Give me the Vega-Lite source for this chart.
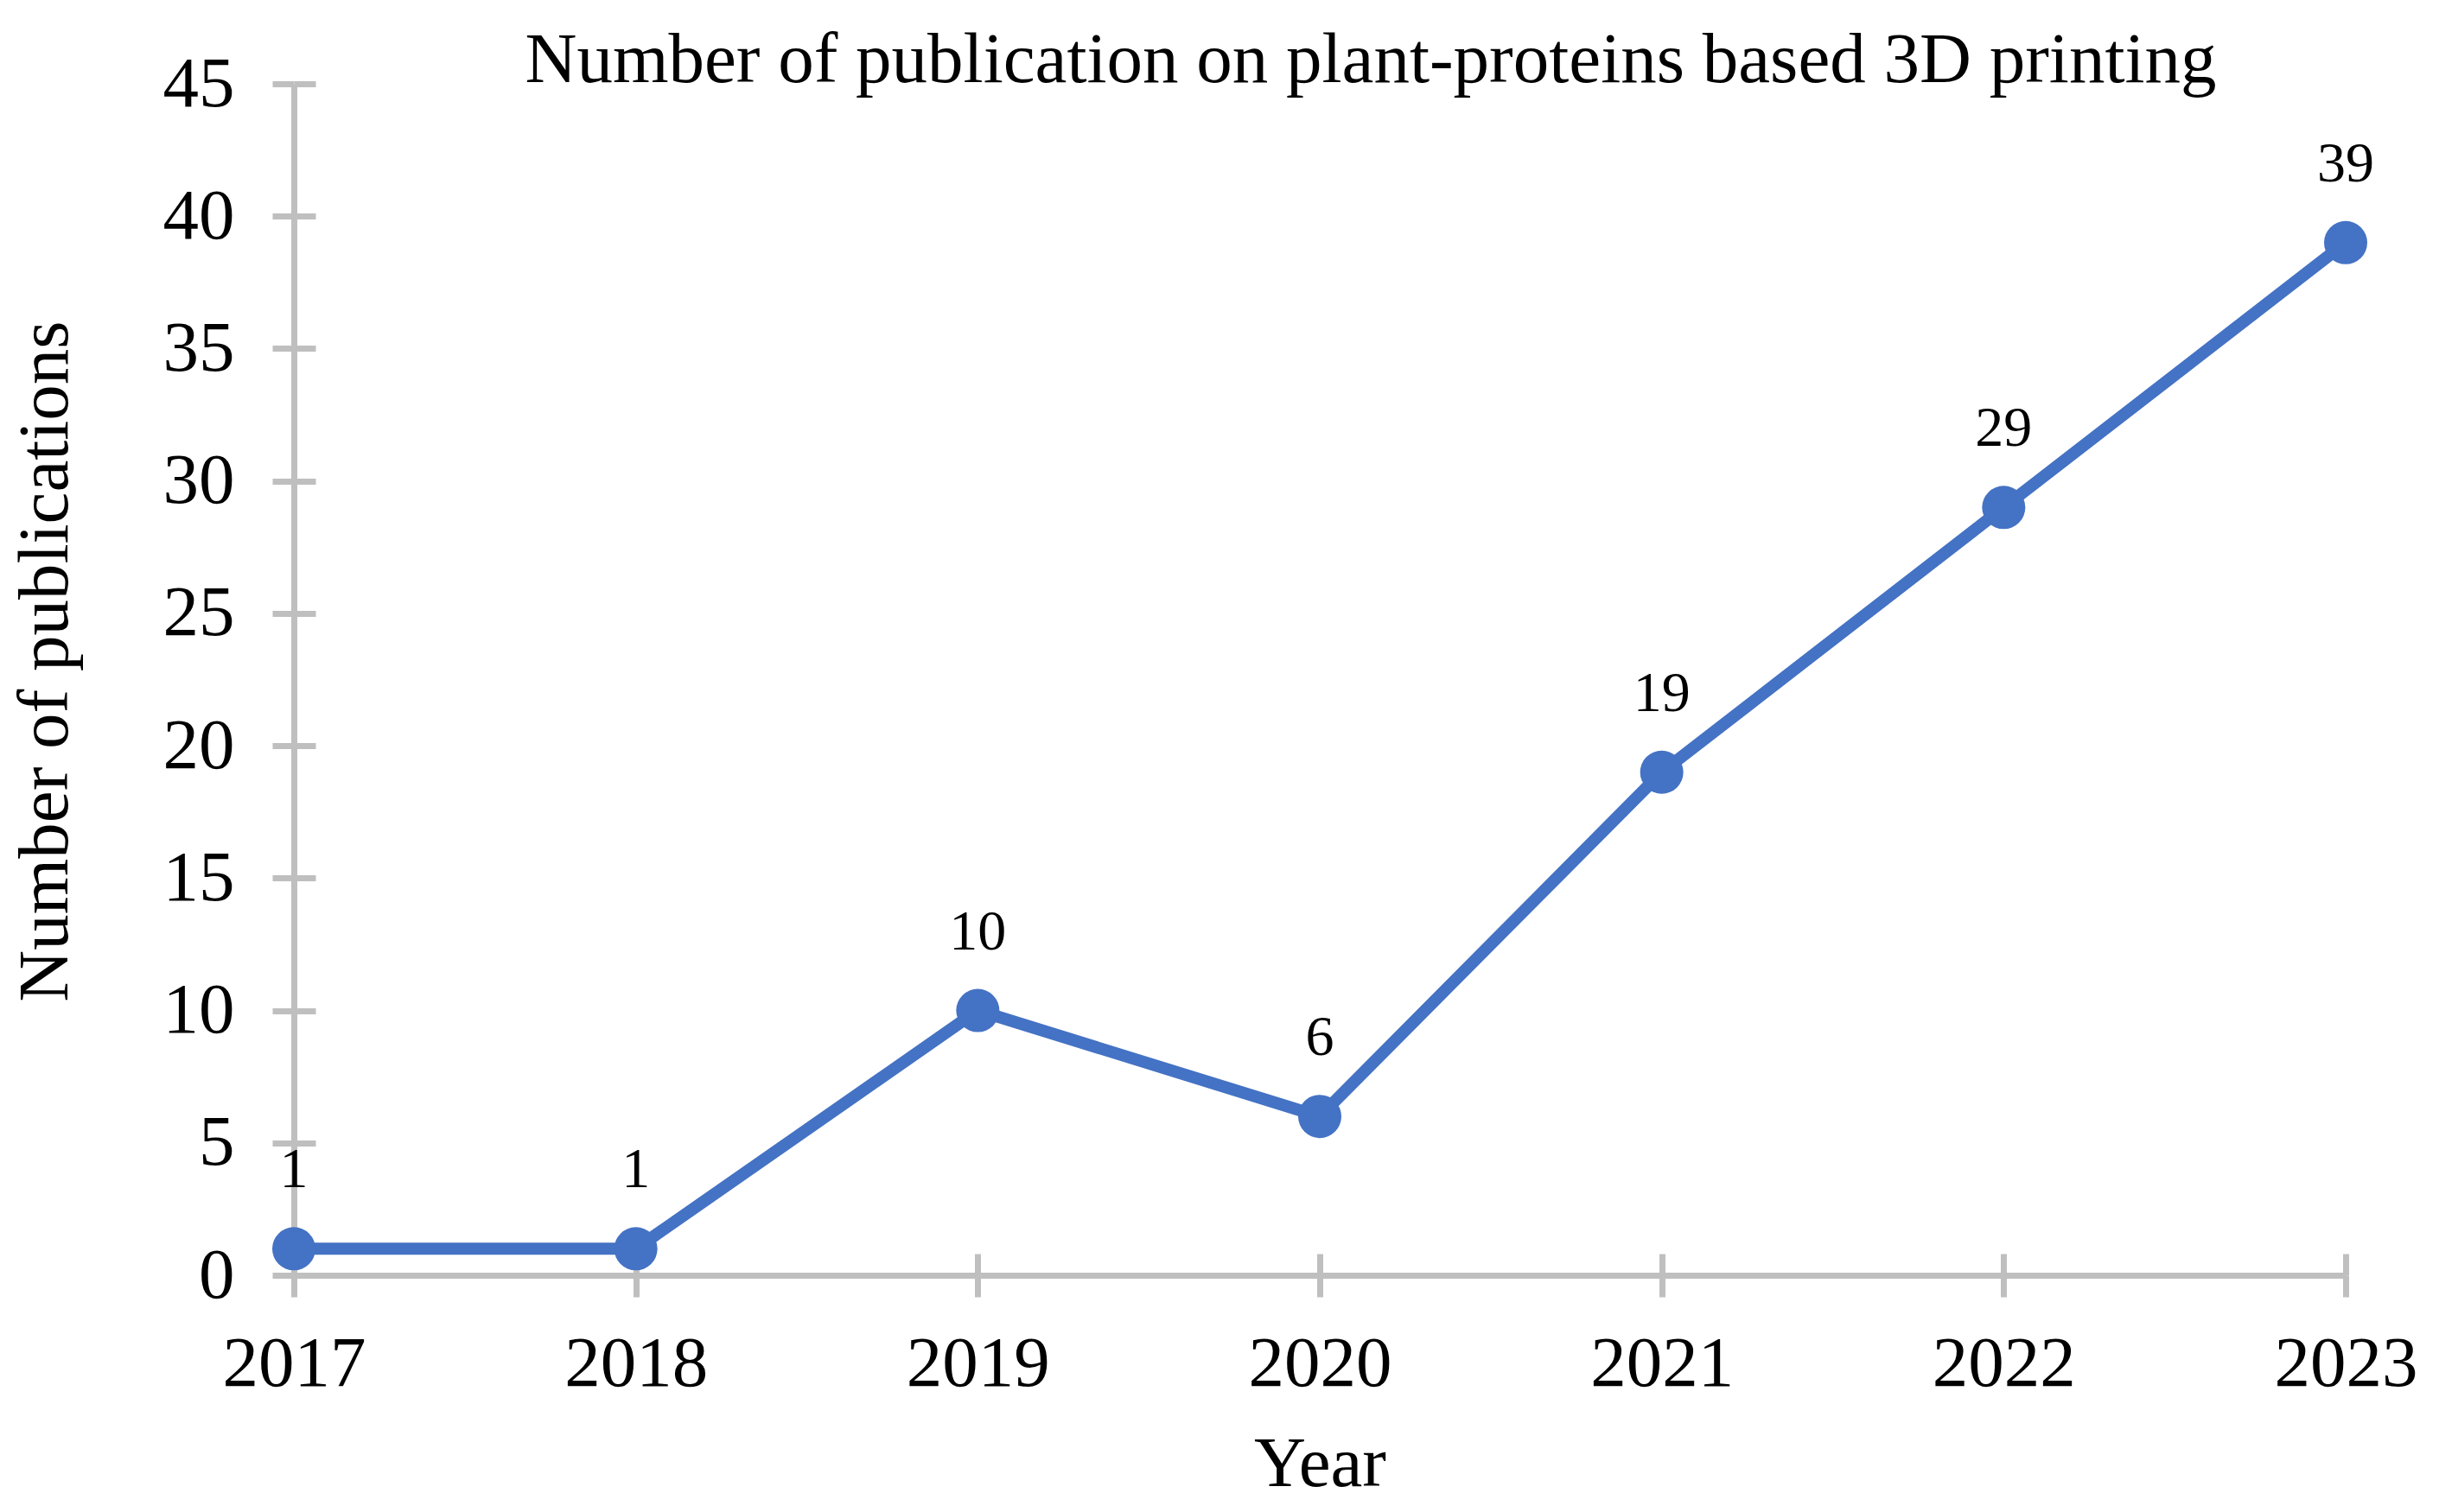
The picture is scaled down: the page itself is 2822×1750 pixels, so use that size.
{
  "$schema": "https://vega.github.io/schema/vega-lite/v6.json",
  "width": 2374,
  "height": 1379,
  "autosize": {"type": "none"},
  "padding": {"left": 340, "top": 97, "right": 108, "bottom": 274},
  "background": "white",
  "title": {
    "text": "Number of publication on plant-proteins based 3D printing",
    "font": "Liberation Serif",
    "fontSize": 83,
    "fontWeight": "normal",
    "color": "black",
    "anchor": "middle",
    "baseline": "alphabetic",
    "offset": -122,
    "dx": 59
  },
  "config": {
    "view": {"stroke": null},
    "axis": {
      "labelFont": "Liberation Serif",
      "titleFont": "Liberation Serif",
      "labelColor": "black",
      "titleColor": "black",
      "titleFontWeight": "normal",
      "domainColor": "#BFBFBF",
      "tickColor": "#BFBFBF",
      "domainWidth": 7,
      "tickWidth": 7,
      "grid": false
    }
  },
  "data": {
    "values": [
      {"year": "2017", "count": 1},
      {"year": "2018", "count": 1},
      {"year": "2019", "count": 10},
      {"year": "2020", "count": 6},
      {"year": "2021", "count": 19},
      {"year": "2022", "count": 29},
      {"year": "2023", "count": 39}
    ]
  },
  "layer": [
    {
      "mark": {"type": "line", "color": "#4472C4", "strokeWidth": 14},
      "encoding": {
        "x": {
          "field": "year", "type": "ordinal",
          "scale": {"type": "point", "padding": 0},
          "axis": {
            "orient": "bottom",
            "title": "Year",
            "labelAngle": 0,
            "labelFontSize": 83,
            "titleFontSize": 83,
            "tickSize": 25,
            "labelPadding": 36,
            "titleBaseline": "alphabetic",
            "titleY": 243
          }
        },
        "y": {
          "field": "count", "type": "quantitative",
          "scale": {"domain": [0, 45], "nice": false},
          "axis": {
            "orient": "left",
            "title": "Number of publications",
            "values": [0, 5, 10, 15, 20, 25, 30, 35, 40, 45],
            "labelFontSize": 83,
            "titleFontSize": 83,
            "tickSize": 25,
            "labelPadding": 44,
            "titleBaseline": "alphabetic",
            "titleX": -263,
            "titleY": 668,
            "titleAngle": -90
          }
        }
      }
    },
    {
      "mark": {"type": "point", "filled": true, "color": "#4472C4", "opacity": 1, "size": 2500, "shape": "circle"},
      "encoding": {
        "x": {"field": "year", "type": "ordinal", "axis": null},
        "y": {"field": "count", "type": "quantitative", "axis": null}
      }
    },
    {
      "mark": {"type": "text", "font": "Liberation Serif", "fontSize": 66, "color": "black", "baseline": "alphabetic", "align": "center", "dy": -71},
      "encoding": {
        "x": {"field": "year", "type": "ordinal", "axis": null},
        "y": {"field": "count", "type": "quantitative", "axis": null},
        "text": {"field": "count", "type": "quantitative"}
      }
    },
    {
      "mark": {"type": "point", "opacity": 0},
      "encoding": {
        "x": {
          "field": "year", "type": "ordinal",
          "axis": {"orient": "bottom", "title": null, "labels": false, "domain": false, "tickSize": -25}
        },
        "y": {
          "field": "count", "type": "quantitative",
          "axis": {"orient": "left", "title": null, "labels": false, "domain": false, "tickSize": -25, "values": [0, 5, 10, 15, 20, 25, 30, 35, 40, 45]}
        }
      }
    }
  ],
  "resolve": {"axis": {"x": "independent", "y": "independent"}}
}
